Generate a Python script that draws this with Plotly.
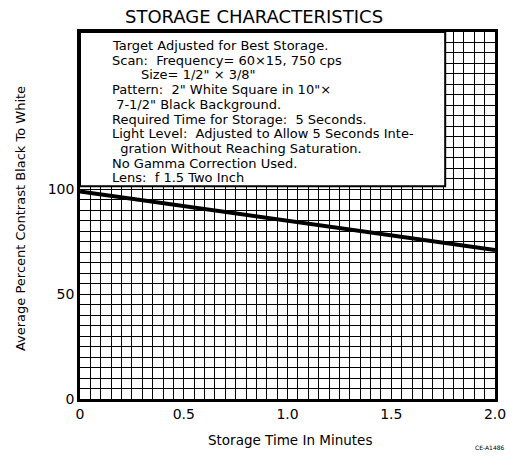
import plotly.graph_objects as go

# Data
storage_time_min = [0.0, 2.0]
contrast_pct = [99, 71]

x_tick_vals = [0, 0.5, 1.0, 1.5, 2.0]
x_tick_text = ["0", "0.5", "1.0", "1.5", "2.0"]
y_tick_vals = [0, 50, 100]
y_tick_text = ["0", "50", "100"]

note_lines = [
    "Target Adjusted for Best Storage.",
    "Scan:  Frequency= 60×15, 750 cps",
    "\u00a0\u00a0\u00a0\u00a0\u00a0\u00a0\u00a0Size= 1/2\" × 3/8\"",
    "Pattern:  2\" White Square in 10\"×",
    "\u00a07-1/2\" Black Background.",
    "Required Time for Storage:  5 Seconds.",
    "Light Level:  Adjusted to Allow 5 Seconds Inte-",
    "\u00a0\u00a0gration Without Reaching Saturation.",
    "No Gamma Correction Used.",
    "Lens:  f 1.5 Two Inch",
]

FONT = "DejaVu Sans"

fig = go.Figure()
fig.add_trace(go.Scatter(
    x=storage_time_min, y=contrast_pct, mode="lines",
    line=dict(color="black", width=4), showlegend=False, hoverinfo="skip",
))

fig.add_shape(type="rect", xref="x", yref="y", x0=0, x1=1.76, y0=101.5, y1=175,
              fillcolor="white", line=dict(color="black", width=2), layer="between")

# note lines, one per annotation to control line spacing
for i, line in enumerate(note_lines):
    fig.add_annotation(
        xref="x", yref="y", x=0.145, y=168.5 - 7.0 * i, xanchor="left", yanchor="middle",
        text=line, showarrow=False, align="left",
        font=dict(family=FONT, size=13, color="black"),
    )

fig.add_annotation(
    xref="paper", yref="paper", x=0.419, y=1.041, xanchor="center", yanchor="middle",
    text="STORAGE CHARACTERISTICS", showarrow=False,
    font=dict(family=FONT, size=18, color="black"),
)
fig.add_annotation(
    xref="paper", yref="paper", x=0.506, y=-0.112, xanchor="center", yanchor="middle",
    text="Storage Time In Minutes", showarrow=False,
    font=dict(family=FONT, size=13.5, color="black"),
)
fig.add_annotation(
    xref="paper", yref="paper", x=-0.1446, y=0.493, xanchor="center", yanchor="middle",
    text="Average Percent Contrast Black To White", showarrow=False, textangle=-90,
    font=dict(family=FONT, size=13, color="black"),
)
fig.add_annotation(
    xref="paper", yref="paper", x=1.03, y=-0.131, xanchor="right", yanchor="middle",
    text="CE-A1486", showarrow=False, font=dict(family=FONT, size=6, color="black"),
)

fig.update_layout(
    width=514, height=456,
    margin=dict(l=80, r=19, t=32, b=57),
    paper_bgcolor="white", plot_bgcolor="white",
    font=dict(family=FONT, color="black"),
)

fig.update_xaxes(
    range=[0, 2.0], tickvals=x_tick_vals, ticktext=x_tick_text,
    showgrid=True, gridcolor="black", gridwidth=1.4,
    minor=dict(dtick=0.05, showgrid=True, gridcolor="black", gridwidth=1.2),
    showline=True, linecolor="black", linewidth=2.5, mirror=True,
    ticks="", tickfont=dict(size=14), zeroline=False, automargin=False,
)
fig.update_yaxes(
    range=[0, 175], tickvals=y_tick_vals, ticktext=y_tick_text,
    showgrid=True, gridcolor="black", gridwidth=1.4,
    minor=dict(dtick=5, showgrid=True, gridcolor="black", gridwidth=1.2),
    showline=True, linecolor="black", linewidth=2.5, mirror=True,
    ticks="", tickfont=dict(size=14), zeroline=False, automargin=False,
)

fig.write_html("out.html", config={"displayModeBar": False},
               post_script="document.body.style.margin='0';")
